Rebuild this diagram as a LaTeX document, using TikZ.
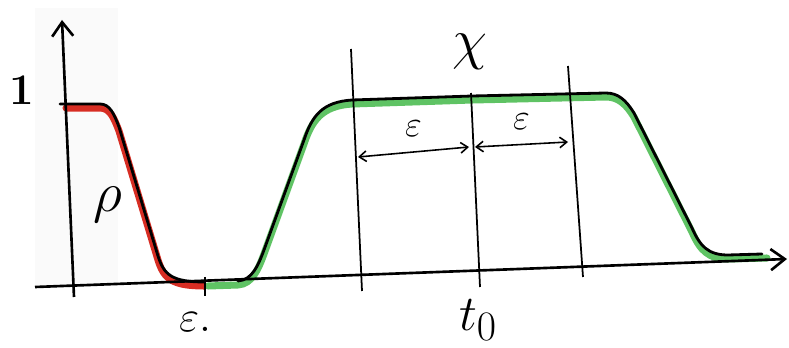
\documentclass[tikz,border=0pt]{standalone}
\usetikzlibrary{arrows.meta,positioning}
\definecolor{rhored}{RGB}{215,45,35}
\definecolor{chigreen}{RGB}{95,195,100}
\tikzstyle{axis}=[line width=1.5pt,-{Straight Barb[length=8pt,width=12pt]}]
\tikzstyle{curve}=[line width=1.6pt,line join=round,line cap=round]
\tikzstyle{band}=[line width=4pt,line join=round,line cap=round,yshift=-0.08cm]
\tikzstyle{guide}=[line width=1pt]
\tikzstyle{dim}=[line width=0.9pt,{Straight Barb[length=4pt,width=6pt]}-{Straight Barb[length=4pt,width=6pt]}]
\tikzstyle{lbl}=[inner sep=0pt,font=\Huge]

\begin{document}
\begin{tikzpicture}[x=0.02cm,y=-0.02cm]
\useasboundingbox (0,0) rectangle (789,348);
\fill[gray!4] (35,8) rectangle (118,285);
\coordinate (xs) at (35,287);
\coordinate (xe) at (787,259);
\coordinate (ys) at (74,297);
\coordinate (ye) at (62,20);
\coordinate (ta) at (205,277);
\coordinate (tb) at (205,296);
\coordinate (la) at (351,49);
\coordinate (lb) at (362,291);
\coordinate (ma) at (471,93);
\coordinate (mb) at (480,287);
\coordinate (ra) at (568,66);
\coordinate (rb) at (583,277);
\coordinate (ea1) at (358,157);
\coordinate (ea2) at (469,147);
\coordinate (eb1) at (475,147);
\coordinate (eb2) at (568,142);
% coloured bands
\draw[band,rhored] (66,104) -- (100,104) .. controls (110,104) and (114,114) .. (119,127) -- (158,256) .. controls (164,275) and (172,282) .. (205,282);
\draw[band,chigreen] (208,282) -- (238,281) .. controls (252,280) and (258,266) .. (264,250) -- (304,140) .. controls (312,116) and (322,102) .. (352,100) -- (472,96) -- (606,93) .. controls (618,93) and (626,100) .. (634,113) -- (692,228) .. controls (700,246) and (708,255) .. (728,255) -- (767,254);
% axes
\draw[axis] (xs) -- (xe);
\draw[axis] (ys) -- (ye);
\draw[guide] (ta) -- (tb);
% curves
\draw[curve] (60,104) -- (100,104) .. controls (110,104) and (114,114) .. (119,127) -- (158,256) .. controls (164,275) and (172,282) .. (205,282);
\draw[curve] (238,281) .. controls (252,280) and (258,266) .. (264,250) -- (304,140) .. controls (312,116) and (322,102) .. (352,100) -- (472,96) -- (606,93) .. controls (618,93) and (626,100) .. (634,113) -- (692,228) .. controls (700,246) and (708,255) .. (728,255) -- (762,254);
% guides
\draw[guide] (la) -- (lb);
\draw[guide] (ma) -- (mb);
\draw[guide] (ra) -- (rb);
\draw[dim] (ea1) -- node[above=5pt,font=\huge] (epsa) {$\varepsilon$} (ea2);
\draw[dim] (eb1) -- node[above=5pt,font=\huge] (epsb) {$\varepsilon$} (eb2);
% labels
\node[lbl] (one) at (22,90) {\bfseries 1};
\node[lbl,scale=1.3] (rho) at (108,205) {$\rho$};
\node[lbl] (epsx) at (195,322) {$\varepsilon.$};
\node[lbl,scale=1.15] (tzero) at (478,320) {$t_0$};
\node[lbl,scale=1.3] (chi) at (470,52) {$\chi$};
\end{tikzpicture}
\end{document}
